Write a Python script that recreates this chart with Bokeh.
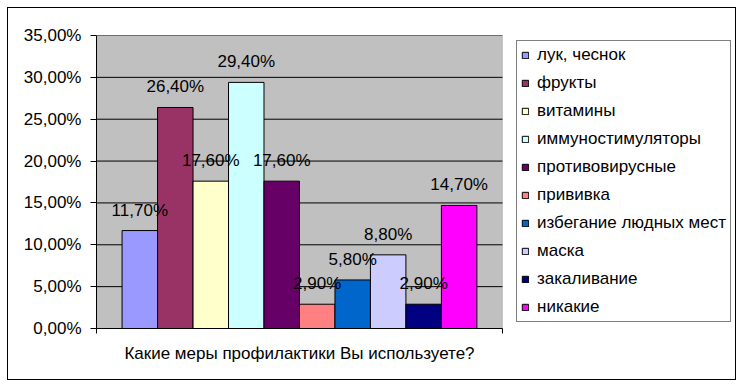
from bokeh.plotting import figure
from bokeh.models import (Range1d, FixedTicker, Legend, LegendItem, CustomJSTickFormatter,
                          ColumnDataSource, BoxAnnotation)
from bokeh.core.properties import value
from bokeh.embed import file_html
from bokeh.resources import INLINE

category = "Какие меры профилактики Вы используете?"
series = ["лук, чеснок", "фрукты", "витамины", "иммуностимуляторы", "противовирусные",
          "прививка", "избегание людных мест", "маска", "закаливание", "никакие"]
values = [11.7, 26.4, 17.6, 29.4, 17.6, 2.9, 5.8, 8.8, 2.9, 14.7]
colors = ["#9999FF", "#993366", "#FFFFCC", "#CCFFFF", "#660066",
          "#FF8080", "#0066CC", "#CCCCFF", "#000080", "#FF00FF"]
y_ticks = [0, 5, 10, 15, 20, 25, 30, 35]

FONT = "Liberation Sans"
FS = "17px"

# plot area spans x in [0, 1]; the rest of the frame (to the right) holds the legend
p = figure(width=729, height=373, x_range=Range1d(0, 1.579), y_range=Range1d(0, 35),
           output_backend="svg", toolbar_location=None,
           min_border_left=88, min_border_right=0, min_border_top=27, min_border_bottom=53)
p.styles = {"border": "1px solid black", "margin-left": "7px", "margin-top": "7px"}
p.background_fill_color = "white"
p.border_fill_color = "white"
p.outline_line_color = None

area = BoxAnnotation(left=0, right=1, bottom=0, top=35, fill_color="#C0C0C0", fill_alpha=1,
                     line_color="#808080", line_width=1, level="underlay")
p.add_layout(area)

p.segment(x0=[0] * len(y_ticks), x1=[1] * len(y_ticks), y0=y_ticks, y1=y_ticks,
          line_color="black", line_width=1)

n = len(series)
group = 0.874
w = group / n
items = []
for i, (name, v, c) in enumerate(zip(series, values, colors)):
    x = 0.5 + (i - (n - 1) / 2) * w
    src = ColumnDataSource(dict(x=[x], top=[v]))
    r = p.vbar(x="x", top="top", width=w, bottom=0, source=src,
               fill_color=c, line_color="black", line_width=1)
    items.append(LegendItem(label=name, renderers=[r]))

for i, v in enumerate(values):
    x = 0.5 + (i - (n - 1) / 2) * w
    src = ColumnDataSource(dict(x=[x], y=[v], label=[f"{v:.2f}".replace(".", ",") + "%"]))
    p.text(x="x", y="y", text="label", source=src, text_align="center",
           text_baseline="bottom", y_offset=-11, text_font=value(FONT),
           text_font_size=FS, text_color="black")

p.grid.visible = False

p.yaxis.ticker = FixedTicker(ticks=y_ticks)
p.yaxis.formatter = CustomJSTickFormatter(code="return tick.toFixed(2).replace('.', ',') + '%';")
p.yaxis.major_label_text_font = FONT
p.yaxis.major_label_text_font_size = FS
p.yaxis.major_label_text_color = "black"
p.yaxis.major_tick_out = 6
p.yaxis.major_tick_in = 0
p.yaxis.minor_tick_line_color = None
p.yaxis.major_label_standoff = 9
p.yaxis.axis_line_color = "black"

# category label as the single major tick (centre of plot area); edge ticks as minor ticks
p.xaxis.bounds = (0, 1)
p.xaxis.ticker = FixedTicker(ticks=[0.5], minor_ticks=[0, 1])
p.xaxis.major_label_overrides = {0.5: category}
p.xaxis.major_tick_line_color = None
p.xaxis.major_tick_out = 5
p.xaxis.major_tick_in = 0
p.xaxis.minor_tick_line_color = "black"
p.xaxis.minor_tick_out = 5
p.xaxis.minor_tick_in = 0
p.xaxis.axis_line_color = "black"
p.xaxis.major_label_text_font = FONT
p.xaxis.major_label_text_font_size = FS
p.xaxis.major_label_text_color = "black"
p.xaxis.major_label_standoff = 10

legend = Legend(items=items, location=(420, 6), margin=0, padding=4, spacing=8,
                label_height=20, glyph_width=8, glyph_height=8, label_standoff=8,
                label_text_font=FONT, label_text_font_size=FS, label_text_color="black",
                border_line_color="black", border_line_width=1, background_fill_color="white",
                background_fill_alpha=1)
p.add_layout(legend)

open("out.html", "w").write(file_html(p, INLINE))
